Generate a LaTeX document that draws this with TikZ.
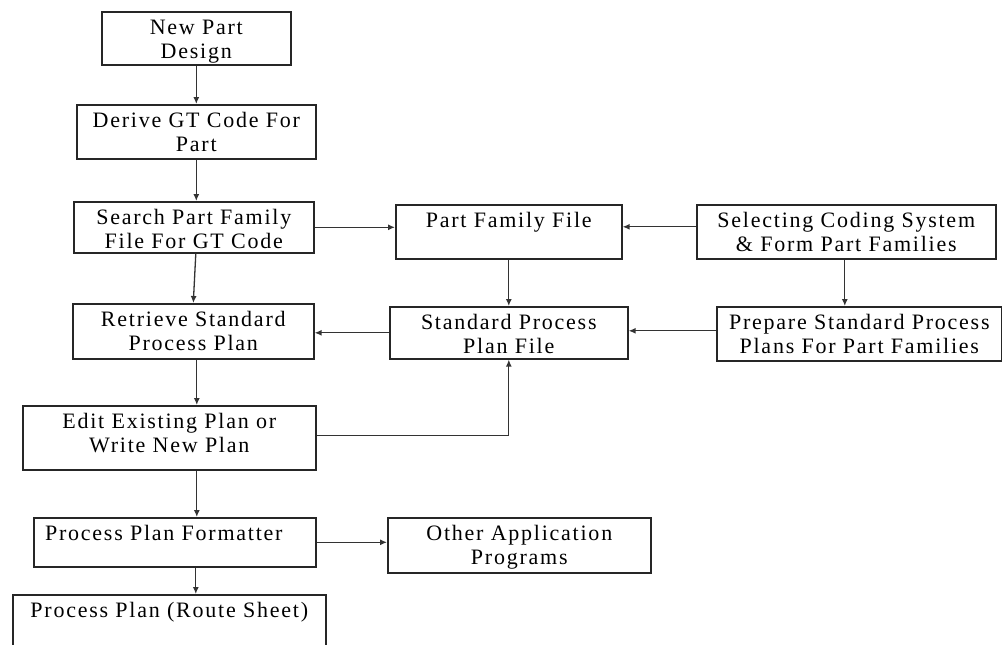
\documentclass[tikz,border=0pt]{standalone}
\usepackage{fontspec}
\setmainfont{Liberation Serif}[LetterSpace=8]
\usetikzlibrary{arrows.meta,calc}
\newcommand{\mkbox}[6]{\node[pbox, anchor=north west] (#1) at (#2,#3) {\parbox[c][#5pt][t]{#4pt}{\centering\rule{0pt}{23pt}#6}};}
\begin{document}
\begin{tikzpicture}[x=1pt,y=-1pt,
  pbox/.style={draw=black!85, line width=1.6pt, inner sep=0pt, rectangle, font=\fontsize{22}{24}\selectfont},
  conn/.style={draw=black!80, line width=1.3pt, -{Latex[length=7pt,width=6pt]}},
  line/.style={draw=black!80, line width=1.3pt}]
\useasboundingbox[fill=white] (0,0) rectangle (1002,645);
\mkbox{npd}{101}{11}{189}{53}{New Part\\Design}
\mkbox{dgt}{76}{104}{239}{54}{Derive GT Code For\\Part}
\mkbox{spf}{73}{201}{240}{51}{Search Part Family\\File For GT Code}
\mkbox{rsp}{72}{303}{241}{55}{Retrieve Standard\\Process Plan}
\mkbox{eep}{22}{405}{293}{64}{Edit Existing Plan or\\Write New Plan}
\mkbox{ppf}{33}{517}{282}{49}{Process Plan Formatter\hspace*{22pt}}
\mkbox{pps}{12}{594}{313}{70}{Process Plan (Route Sheet)}
\mkbox{pff}{395}{204}{226}{54}{Part Family File}
\mkbox{sppf}{389}{306}{238}{52}{Standard Process\\Plan File}
\mkbox{scs}{696}{204}{299}{54}{Selecting Coding System\\\& Form Part Families}
\mkbox{psp}{716}{306}{285}{54}{Prepare Standard Process\\Plans For Part Families}
\mkbox{oap}{387}{517}{263}{55}{Other Application\\Programs}
% connectors
\draw[conn] (npd.south) -- (npd.south |- dgt.north);
\draw[conn] (dgt.south) -- (dgt.south |- spf.north);
\draw[conn] ([xshift=2pt]spf.south) -- (rsp.north);
\draw[conn] ([xshift=3.5pt]rsp.south) -- ([xshift=3.5pt]rsp.south |- eep.north);
\draw[conn] ([xshift=27.5pt]eep.south) -- ([xshift=27.5pt]eep.south |- ppf.north);
\draw[conn] ([xshift=21pt]ppf.south) -- ([xshift=21pt]ppf.south |- pps.north);
\draw[conn] (ppf.east) -- (ppf.east -| oap.west);
\draw[conn] ([yshift=2pt]eep.east) -| (sppf.south);
\draw[conn] (spf.east) -- (spf.east -| pff.west);
\draw[conn] (pff.south) -- (pff.south |- sppf.north);
\draw[conn] (sppf.west) -- (sppf.west -| rsp.east);
\draw[conn] ([yshift=5pt]scs.west) -- ([yshift=5pt]scs.west -| pff.east);
\draw[conn] ([xshift=-1.5pt]scs.south) -- ([xshift=-1.5pt]scs.south |- psp.north);
\draw[conn] ([yshift=3pt]psp.west) -- ([yshift=3pt]psp.west -| sppf.east);
\end{tikzpicture}
\end{document}
